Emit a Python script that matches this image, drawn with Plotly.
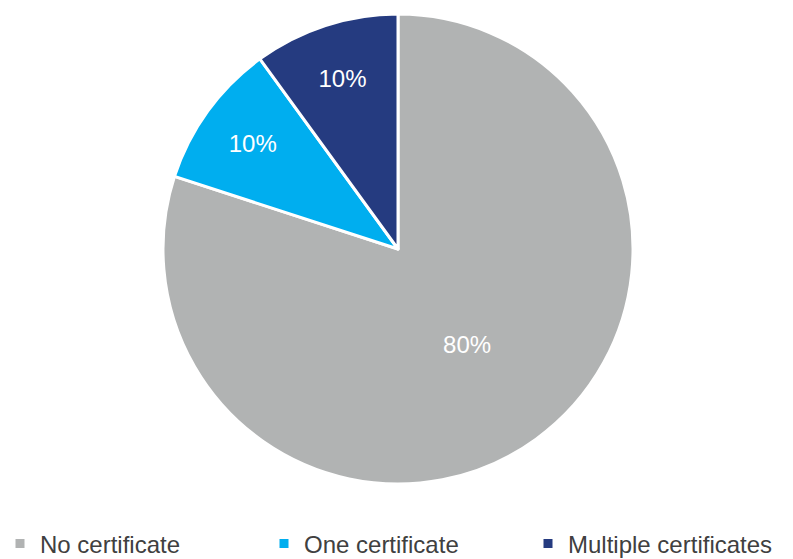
import plotly.graph_objects as go

labels = ["No certificate", "One certificate", "Multiple certificates"]
values = [80, 10, 10]
colors = ["#B1B3B3", "#00AEEF", "#253B80"]

W, H = 793, 559
fig = go.Figure(go.Pie(
    labels=labels,
    values=values,
    sort=False,
    direction="clockwise",
    rotation=0,
    marker=dict(colors=colors, line=dict(color="white", width=3)),
    textinfo="percent",
    texttemplate="%{percent:.0%}",
    textposition="inside",
    insidetextorientation="horizontal",
    textfont=dict(color="white", size=24, family="Liberation Sans, Arial, sans-serif"),
    domain=dict(x=[163 / W, 633 / W], y=[1 - 484 / H, 1 - 14 / H]),
    hoverinfo="label+percent",
))

fig.update_layout(
    width=W, height=H,
    margin=dict(l=0, r=0, t=0, b=0, autoexpand=False),
    paper_bgcolor="white",
    plot_bgcolor="white",
    font=dict(family="Liberation Sans, Arial, sans-serif", color="#404040"),
    legend=dict(
        orientation="h",
        x=0.0, xanchor="left",
        y=1 - 544 / H, yanchor="middle",
        entrywidth=219,
        entrywidthmode="pixels",
        font=dict(size=24, color="#404040"),
        traceorder="normal",
    ),
)

fig.write_html(
    "out.html",
    config={"displayModeBar": False},
    post_script="document.body.style.margin='0';document.body.style.overflow='hidden';",
)
